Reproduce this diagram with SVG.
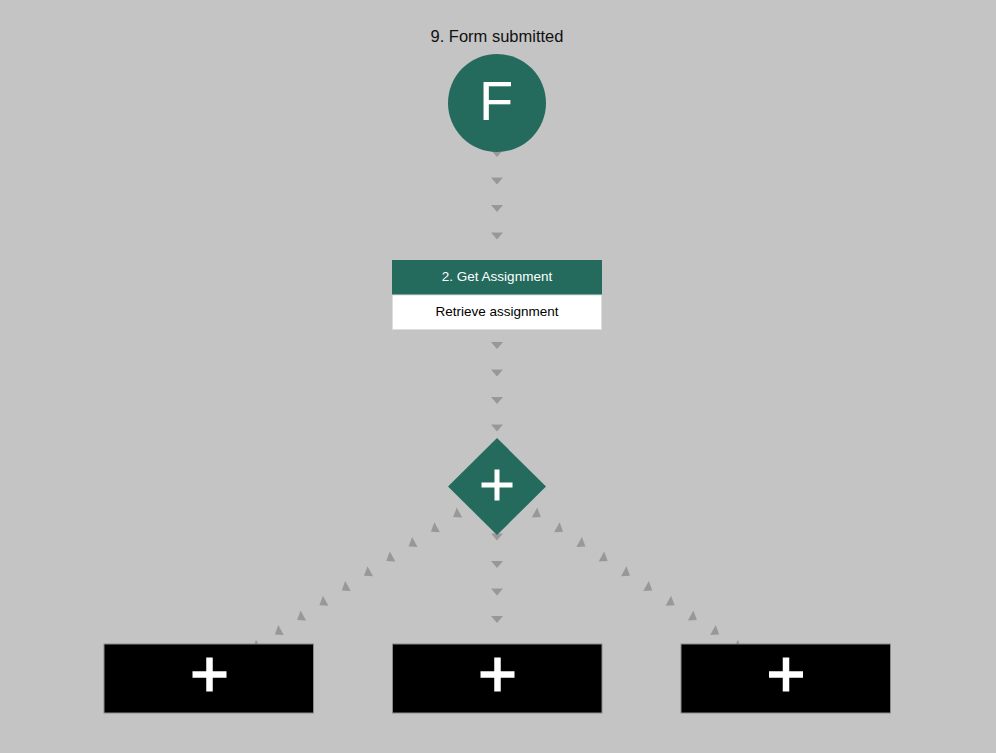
<svg xmlns="http://www.w3.org/2000/svg" xmlns:xlink="http://www.w3.org/1999/xlink" width="996" height="753" viewBox="0 0 996 753">
  <style>
    .bg { fill: #c4c4c4; }
    .green { fill: #246b5d; }
    .chev { fill: #9b9797; }
    .lbl { font-family: "Liberation Sans", Arial, sans-serif; text-anchor: middle; }
    .plus { stroke: #ffffff; fill: none; }
    .block { fill: #000000; stroke: #8a8a8a; stroke-width: 1; }
  </style>
  <defs>
    <!-- flow chevron pointing down, centred on its origin -->
    <path id="down" class="chev" d="M-6,-3.5 L6,-3.5 L0,3.5 Z"/>
    <!-- chevrons along the diagonal branches, origin at the tip -->
    <path id="diagL" class="chev" d="M0,0 L5.5,10 L-3.5,9.5 Z"/>
    <path id="diagR" class="chev" d="M0,0 L3.5,9.5 L-5.5,10 Z"/>
  </defs>

  <rect class="bg" x="0" y="0" width="996" height="753"/>

  <!-- connectors -->
  <g id="connectors">
    <g id="edge-start-task">
      <use xlink:href="#down" x="497" y="153.5"/>
      <use xlink:href="#down" x="497" y="181"/>
      <use xlink:href="#down" x="497" y="208.5"/>
      <use xlink:href="#down" x="497" y="236"/>
    </g>
    <g id="edge-task-gateway">
      <use xlink:href="#down" x="497" y="345.5"/>
      <use xlink:href="#down" x="497" y="373"/>
      <use xlink:href="#down" x="497" y="400.5"/>
      <use xlink:href="#down" x="497" y="428"/>
    </g>
    <g id="edge-gateway-middle">
      <use xlink:href="#down" x="497" y="537"/>
      <use xlink:href="#down" x="497" y="564.5"/>
      <use xlink:href="#down" x="497" y="592"/>
      <use xlink:href="#down" x="497" y="619.5"/>
    </g>
    <g id="edge-gateway-left">
      <use xlink:href="#diagL" x="456.7" y="507.5"/>
      <use xlink:href="#diagL" x="434.4" y="522.2"/>
      <use xlink:href="#diagL" x="412.1" y="536.9"/>
      <use xlink:href="#diagL" x="389.8" y="551.6"/>
      <use xlink:href="#diagL" x="367.5" y="566.3"/>
      <use xlink:href="#diagL" x="345.2" y="581"/>
      <use xlink:href="#diagL" x="322.9" y="595.7"/>
      <use xlink:href="#diagL" x="300.6" y="610.4"/>
      <use xlink:href="#diagL" x="278.3" y="625.1"/>
      <use xlink:href="#diagL" x="256" y="639.8"/>
    </g>
    <g id="edge-gateway-right">
      <use xlink:href="#diagR" x="537.3" y="507.5"/>
      <use xlink:href="#diagR" x="559.6" y="522.2"/>
      <use xlink:href="#diagR" x="581.9" y="536.9"/>
      <use xlink:href="#diagR" x="604.2" y="551.6"/>
      <use xlink:href="#diagR" x="626.5" y="566.3"/>
      <use xlink:href="#diagR" x="648.8" y="581"/>
      <use xlink:href="#diagR" x="671.1" y="595.7"/>
      <use xlink:href="#diagR" x="693.4" y="610.4"/>
      <use xlink:href="#diagR" x="715.7" y="625.1"/>
      <use xlink:href="#diagR" x="738" y="639.8"/>
    </g>
  </g>

  <!-- start event -->
  <g id="start-event">
    <text class="lbl" x="497" y="41.7" font-size="16.5" fill="#111111">9. Form submitted</text>
    <circle class="green" cx="497" cy="103" r="49"/>
    <text class="lbl" x="496" y="120" font-size="56" fill="#ffffff">F</text>
  </g>

  <!-- task -->
  <g id="task-get-assignment">
    <rect class="green" x="392" y="260" width="210" height="35"/>
    <rect x="392.5" y="295" width="209" height="34.5" fill="#ffffff" stroke="#dddddd" stroke-width="1"/>
    <text class="lbl" x="497" y="280.7" font-size="13.5" fill="#ffffff">2. Get Assignment</text>
    <text class="lbl" x="497" y="315.5" font-size="13.5" fill="#000000">Retrieve assignment</text>
  </g>

  <!-- parallel gateway -->
  <g id="gateway">
    <polygon class="green" points="497,438 546,486.5 497,535 448,486.5"/>
    <path class="plus" stroke-width="5" d="M481.5,485 H512.5 M497,469.5 V500.5"/>
  </g>

  <!-- collapsed branches -->
  <g id="branch-left">
    <rect class="block" x="104" y="644" width="209.5" height="69"/>
    <path class="plus" stroke-width="6.5" d="M192.5,674.5 H226.5 M209.5,657.5 V691.5"/>
  </g>
  <g id="branch-middle">
    <rect class="block" x="392.5" y="644" width="209.5" height="69"/>
    <path class="plus" stroke-width="6.5" d="M480.5,674.5 H514.5 M497.5,657.5 V691.5"/>
  </g>
  <g id="branch-right">
    <rect class="block" x="681" y="644" width="209.5" height="69"/>
    <path class="plus" stroke-width="6.5" d="M769,674.5 H803 M786,657.5 V691.5"/>
  </g>
</svg>
